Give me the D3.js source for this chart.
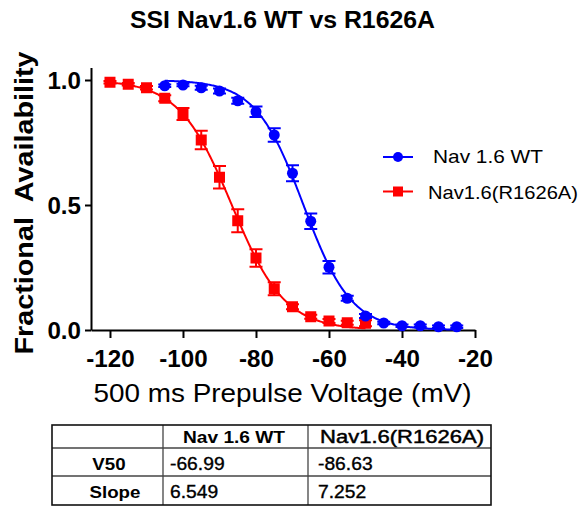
<!DOCTYPE html>
<html>
<head>
<meta charset="utf-8">
<script src="https://cdn.jsdelivr.net/npm/d3@7"></script>
<style>
  html, body { margin: 0; padding: 0; background: #fff; }
  svg { display: block; font-family: "Liberation Sans", Arial, sans-serif; }
</style>
</head>
<body>
<svg id="chart" width="584" height="508"></svg>
<script>
// ---------- data ----------
const voltagesWT = [-105, -100, -95, -90, -85, -80, -75, -70, -65, -60, -55, -50, -45, -40, -35, -30, -25];
const availWT    = [0.977, 0.980, 0.969, 0.956, 0.917, 0.873, 0.780, 0.627, 0.435, 0.251, 0.127, 0.056, 0.028, 0.017, 0.017, 0.013, 0.013];
const errWT      = [0.005, 0.005, 0.008, 0.010, 0.012, 0.021, 0.027, 0.032, 0.031, 0.025, 0.010, 0.008, 0.005, 0.005, 0.005, 0.005, 0.005];

const voltagesMut = [-120, -115, -110, -105, -100, -95, -90, -85, -80, -75, -70, -65, -60, -55, -50];
const availMut    = [0.991, 0.983, 0.969, 0.927, 0.864, 0.760, 0.611, 0.437, 0.288, 0.165, 0.093, 0.053, 0.036, 0.029, 0.027];
const errMut      = [0.005, 0.005, 0.007, 0.012, 0.024, 0.037, 0.045, 0.046, 0.035, 0.026, 0.010, 0.008, 0.008, 0.008, 0.012];

const seriesNames = ["Nav 1.6 WT", "Nav1.6(R1626A)"];
const fitV50   = [-66.99, -86.63];
const fitSlope = [6.549, 7.252];
const fitRange = [[-105, -25], [-120, -50]];

const xTicks = [-120, -100, -80, -60, -40, -20];
const yTicks = [0, 0.5, 1.0];
const tableRowLabels = ["V50", "Slope"];
const tableV50Text   = ["-66.99", "-86.63"];
const tableSlopeText = ["6.549", "7.252"];

// ---------- setup ----------
const svg = d3.select("#chart");
svg.append("rect").attr("width", 584).attr("height", 508).attr("fill", "#fff");

const x = d3.scaleLinear().domain([-125.2, -20]).range([91, 475]);
const y = d3.scaleLinear().domain([0, 1.05]).range([330, 67.5]);

function fitText(sel, len) {
  sel.attr("textLength", len).attr("lengthAdjust", "spacingAndGlyphs");
}
function stretch(sel, k) {
  sel.each(function() {
    const w = this.getComputedTextLength();
    d3.select(this).attr("textLength", w * k).attr("lengthAdjust", "spacingAndGlyphs");
  });
}

// title
svg.append("text").attr("x", 282.5).attr("y", 28)
  .attr("text-anchor", "middle").attr("font-weight", "bold").attr("font-size", 23.5)
  .text("SSI Nav1.6 WT vs R1626A").call(fitText, 305);

// axes
const xAxis = svg.append("g").attr("transform", "translate(0,330)")
  .call(d3.axisBottom(x).tickValues(xTicks).tickSize(8).tickSizeOuter(0).tickPadding(6).tickFormat(d3.format("d")));
xAxis.select(".domain").attr("stroke-width", 2).attr("stroke", "#000");
xAxis.selectAll(".tick line").attr("stroke-width", 2);
xAxis.selectAll(".tick text").attr("font-size", 23).attr("font-weight", "bold")
  .attr("font-family", "Liberation Sans, Arial, sans-serif").attr("fill", "#000")
  .attr("dy", null).attr("y", 36.5)
  .text(d => d < 0 ? "-" + Math.abs(d) : d)
  .call(stretch, 1.05);

const yAxis = svg.append("g").attr("transform", "translate(91,0)")
  .call(d3.axisLeft(y).tickValues(yTicks).tickSize(6).tickSizeOuter(0).tickPadding(4).tickFormat(d3.format(".1f")));
yAxis.select(".domain").attr("stroke-width", 2).attr("stroke", "#000");
yAxis.selectAll(".tick line").attr("stroke-width", 2);
yAxis.selectAll(".tick text").attr("font-size", 23).attr("font-weight", "bold")
  .attr("font-family", "Liberation Sans, Arial, sans-serif").attr("fill", "#000")
  .attr("dy", "0.36em").call(stretch, 1.05);

// axis titles
svg.append("text").attr("x", 282.5).attr("y", 401.5).attr("text-anchor", "middle")
  .attr("font-size", 26).text("500 ms Prepulse Voltage (mV)").call(fitText, 378);
svg.append("text").attr("transform", "translate(33,203) rotate(-90)")
  .attr("text-anchor", "middle").attr("font-weight", "bold").attr("font-size", 25.5)
  .style("white-space", "pre")
  .text("Fractional  Availability").call(fitText, 303);

// ---------- series ----------
const colors = ["#0000ff", "#ff0000"];
const seriesData = [
  voltagesWT.map((v, i) => ({ v, a: availWT[i], e: errWT[i] })),
  voltagesMut.map((v, i) => ({ v, a: availMut[i], e: errMut[i] }))
];
const line = d3.line().x(d => x(d[0])).y(d => y(d[1]));

function drawSeries(k, shape) {
  const c = colors[k];
  const g = svg.append("g");
  // Boltzmann fit curve (parameters from the table)
  const [v0, v1] = fitRange[k];
  const pts = d3.range(v0, v1 + 0.01, 0.25).map(v => [v, 1 / (1 + Math.exp((v - fitV50[k]) / fitSlope[k]))]);
  g.append("path").attr("d", line(pts)).attr("fill", "none").attr("stroke", c).attr("stroke-width", 2);
  // error bars
  const eb = g.selectAll(".eb").data(seriesData[k]).join("g");
  eb.append("line").attr("x1", d => x(d.v)).attr("x2", d => x(d.v))
    .attr("y1", d => y(d.a - d.e)).attr("y2", d => y(d.a + d.e)).attr("stroke", c).attr("stroke-width", 2);
  eb.append("line").attr("x1", d => x(d.v) - 6.5).attr("x2", d => x(d.v) + 6.5)
    .attr("y1", d => y(d.a + d.e)).attr("y2", d => y(d.a + d.e)).attr("stroke", c).attr("stroke-width", 2);
  eb.append("line").attr("x1", d => x(d.v) - 6.5).attr("x2", d => x(d.v) + 6.5)
    .attr("y1", d => y(d.a - d.e)).attr("y2", d => y(d.a - d.e)).attr("stroke", c).attr("stroke-width", 2);
  // markers
  if (shape === "circle") {
    g.selectAll(".m").data(seriesData[k]).join("circle")
      .attr("cx", d => x(d.v)).attr("cy", d => y(d.a)).attr("r", 5.5).attr("fill", c);
  } else {
    g.selectAll(".m").data(seriesData[k]).join("rect")
      .attr("x", d => x(d.v) - 5.5).attr("y", d => y(d.a) - 5.5).attr("width", 11).attr("height", 11).attr("fill", c);
  }
}
drawSeries(1, "square");
drawSeries(0, "circle");

// ---------- legend ----------
const lg = svg.append("g");
lg.append("line").attr("x1", 383).attr("x2", 413).attr("y1", 157).attr("y2", 157).attr("stroke", colors[0]).attr("stroke-width", 2);
lg.append("circle").attr("cx", 398).attr("cy", 157).attr("r", 5).attr("fill", colors[0]);
lg.append("text").attr("x", 433).attr("y", 163).attr("font-size", 19).text(seriesNames[0]).call(fitText, 110);
lg.append("line").attr("x1", 383).attr("x2", 413).attr("y1", 191.5).attr("y2", 191.5).attr("stroke", colors[1]).attr("stroke-width", 2);
lg.append("rect").attr("x", 393).attr("y", 186.5).attr("width", 10).attr("height", 10).attr("fill", colors[1]);
lg.append("text").attr("x", 428).attr("y", 198.5).attr("font-size", 19).text(seriesNames[1]).call(fitText, 150);

// ---------- table ----------
const colX = [52, 163, 308, 491];
const rowY = [425, 448, 476, 505];
const tg = svg.append("g");
tg.selectAll(".hl").data(rowY.slice(1, 3)).join("line")
  .attr("x1", colX[0]).attr("x2", colX[3]).attr("y1", d => d).attr("y2", d => d)
  .attr("stroke", "#444").attr("stroke-width", 1.3);
tg.selectAll(".vl").data(colX.slice(1, 3)).join("line")
  .attr("x1", d => d).attr("x2", d => d).attr("y1", rowY[0]).attr("y2", rowY[3])
  .attr("stroke", "#444").attr("stroke-width", 1.3);
tg.append("rect").attr("x", colX[0]).attr("y", rowY[0]).attr("width", colX[3] - colX[0]).attr("height", rowY[3] - rowY[0])
  .attr("fill", "none").attr("stroke", "#111").attr("stroke-width", 1.6);

tg.append("text").attr("x", 234).attr("y", 443).attr("text-anchor", "middle").attr("font-weight", "bold")
  .attr("font-size", 17).text(seriesNames[0]).call(fitText, 102);
tg.append("text").attr("x", 402).attr("y", 443).attr("text-anchor", "middle")
  .attr("font-size", 17.5).attr("stroke", "#000").attr("stroke-width", 0.45)
  .text(seriesNames[1]).call(fitText, 164);

tg.append("text").attr("x", 109).attr("y", 470).attr("text-anchor", "middle").attr("font-weight", "bold")
  .attr("font-size", 17).text(tableRowLabels[0]).call(stretch, 1.1);
tg.append("text").attr("x", 115).attr("y", 498).attr("text-anchor", "middle").attr("font-weight", "bold")
  .attr("font-size", 17).text(tableRowLabels[1]).call(stretch, 1.1);

tg.selectAll(".val").data([
  [170, 470, tableV50Text[0]], [318, 470, tableV50Text[1]],
  [170, 498, tableSlopeText[0]], [318, 498, tableSlopeText[1]]
]).join("text")
  .attr("x", d => d[0]).attr("y", d => d[1]).attr("font-size", 17.5)
  .attr("stroke", "#000").attr("stroke-width", 0.35)
  .text(d => d[2]).call(stretch, 1.1);
</script>
</body>
</html>
